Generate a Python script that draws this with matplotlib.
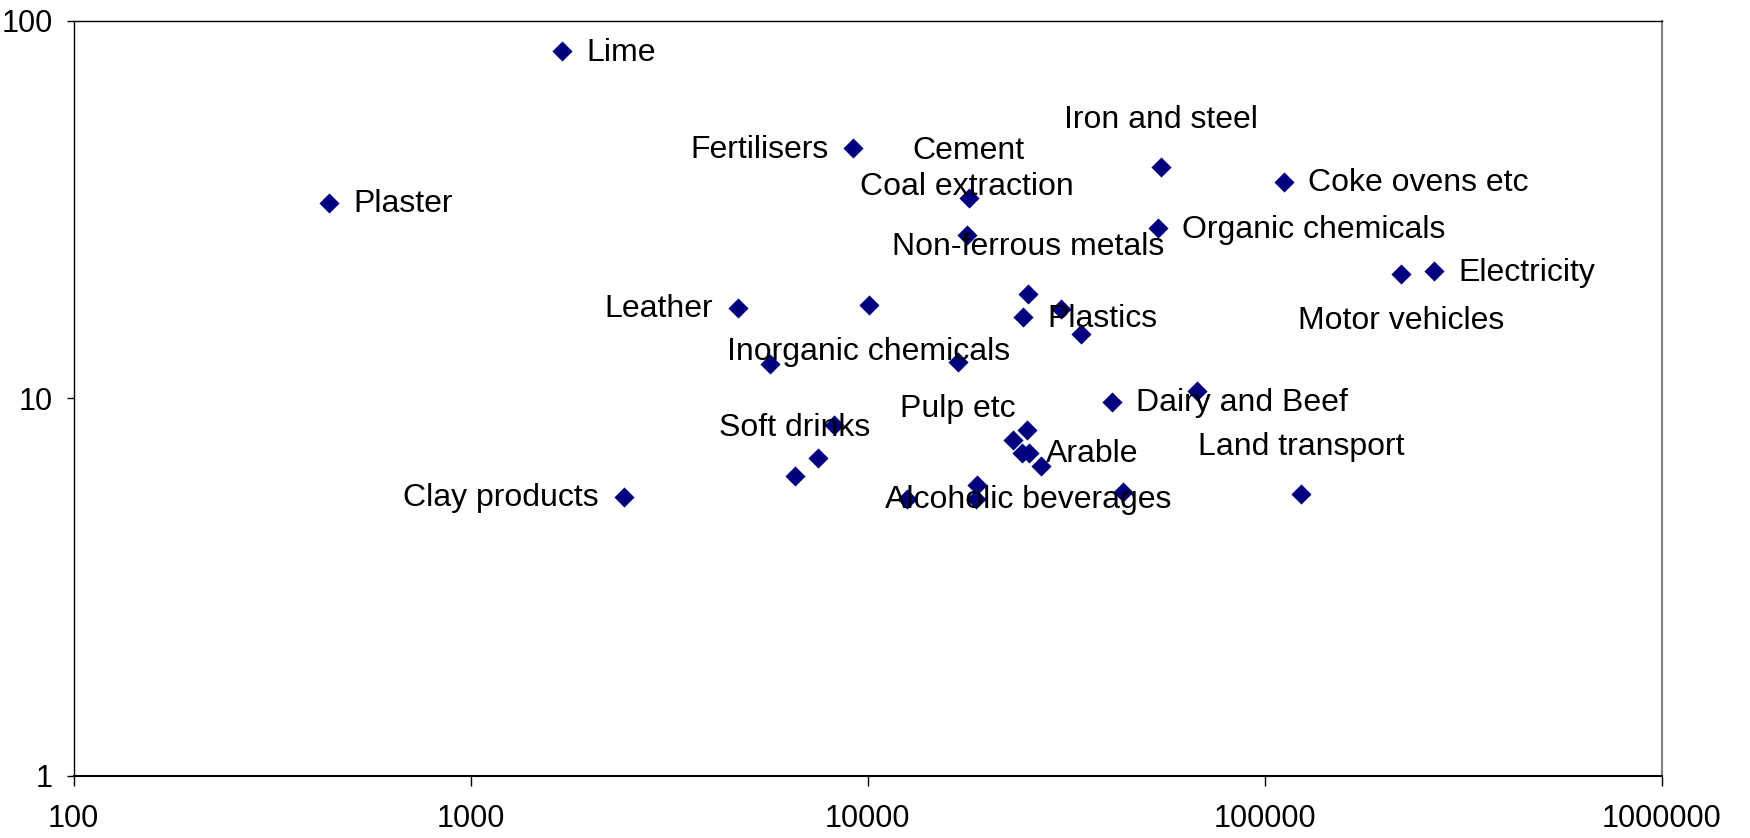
import matplotlib
matplotlib.use("Agg")
import matplotlib.pyplot as plt

# Log-log scatter of industrial sectors

x_vals = [1700, 9200, 440, 4700, 10050, 5660, 16900, 54700, 111800, 17980,
          17740, 53950, 220400, 267600, 25340, 24590, 30740, 34450, 41310, 67320,
          8200, 25250, 23160, 24420, 25410, 27350, 7510, 6556, 2430, 18840,
          18710, 12550, 43890, 123700]
y_vals = [83, 46, 33, 17.4, 17.7, 12.3, 12.5, 41, 37.5, 33.9,
          27.1, 28.2, 21.4, 21.7, 18.9, 16.4, 17.3, 14.8, 9.78, 10.46,
          8.5, 8.25, 7.76, 7.18, 7.18, 6.62, 6.96, 6.23, 5.49, 5.89,
          5.41, 5.41, 5.64, 5.57]

# label text and index of the point it belongs to
label_texts = ["Lime", "Fertilisers", "Plaster", "Leather", "Inorganic chemicals",
               "Pulp etc", "Iron and steel", "Coke ovens etc", "Cement",
               "Coal extraction", "Organic chemicals", "Motor vehicles",
               "Electricity", "Non-ferrous metals", "Plastics", "Dairy and Beef",
               "Arable", "Alcoholic beverages", "Soft drinks", "Clay products",
               "Land transport"]
label_points = [0, 1, 2, 3, 4, 6, 7, 8, 9, 10, 11, 12, 13, 14, 15, 18, 23, 24, 27, 28, 33]
label_side = ["right", "left", "right", "left", "below", "below", "above", "right",
              "above", "above", "right", "below", "right", "above", "right", "right",
              "right", "below", "above", "left", "above"]

x_ticks = [100, 1000, 10000, 100000, 1000000]
y_ticks = [1, 10, 100]

plt.rcParams['font.family'] = ['Liberation Sans', 'DejaVu Sans']

fig = plt.figure(figsize=(17.5, 8.38), dpi=100)
ax = fig.add_axes([0.0421, 0.0743, 0.9075, 0.9007])

ax.scatter(x_vals, y_vals, marker='D', s=105, color='#000080', linewidths=0, zorder=3)

# offsets in pixels (x, y) and alignment for each label placement
side_style = {
    "right": ((24, -9.5), 'left'),
    "left": ((-25, -9.5), 'right'),
    "above": ((0, 39.5), 'center'),
    "below": ((0, -55), 'center'),
}
for txt, idx, side in zip(label_texts, label_points, label_side):
    offs, ha = side_style[side]
    ax.annotate(txt, (x_vals[idx], y_vals[idx]), xytext=offs, textcoords='offset pixels',
                ha=ha, va='baseline', fontsize=23, color='black', zorder=4)

ax.set_xscale('log')
ax.set_yscale('log')
ax.set_xlim(100, 1000000)
ax.set_ylim(1, 100)
ax.set_xticks(x_ticks)
ax.set_xticklabels([str(v) for v in x_ticks])
ax.set_yticks(y_ticks)
ax.set_yticklabels([str(v) for v in y_ticks])
ax.minorticks_off()

ax.tick_params(axis='x', length=7, width=1, pad=13, labelsize=22, direction='out')
ax.tick_params(axis='y', length=5, width=1, pad=10, labelsize=22, direction='out')

ax.spines['left'].set_color('black')
ax.spines['left'].set_linewidth(1)
ax.spines['bottom'].set_color('black')
ax.spines['bottom'].set_linewidth(1.5)
ax.spines['top'].set_color('black')
ax.spines['top'].set_linewidth(1)
ax.spines['right'].set_color('#808080')
ax.spines['right'].set_linewidth(1.5)

fig.savefig('out.png', dpi=100)
